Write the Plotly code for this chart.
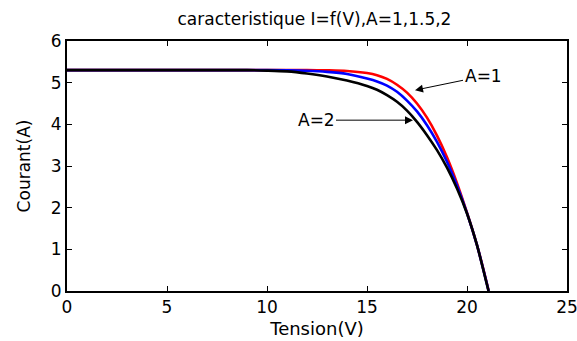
import plotly.graph_objects as go

# I-V curves of the PV cell for three ideality factors A
v_a1 = [0, 11, 12, 13, 14, 15, 15.5, 16, 16.5, 17, 17.5, 18, 18.5, 19, 19.5, 20, 20.5, 21, 21.08]
i_a1 = [5.30, 5.30, 5.30, 5.295, 5.28, 5.23, 5.18, 5.09, 4.95, 4.76, 4.50, 4.16, 3.73, 3.21, 2.59, 1.88, 1.10, 0.17, 0]

v_a15 = [0, 10, 11, 12, 13, 14, 15, 15.5, 16, 16.5, 17, 17.5, 18, 18.5, 19, 19.5, 20, 20.5, 21, 21.08]
i_a15 = [5.30, 5.30, 5.295, 5.285, 5.26, 5.21, 5.10, 5.03, 4.93, 4.78, 4.57, 4.31, 3.98, 3.58, 3.10, 2.53, 1.87, 1.10, 0.16, 0]

v_a2 = [0, 9, 10, 11, 12, 13, 14, 15, 15.5, 16, 16.5, 17, 17.5, 18, 18.5, 19, 19.5, 20, 20.5, 21, 21.08]
i_a2 = [5.30, 5.30, 5.29, 5.27, 5.22, 5.15, 5.05, 4.92, 4.83, 4.70, 4.54, 4.33, 4.06, 3.74, 3.38, 2.96, 2.46, 1.86, 1.10, 0.15, 0]

x_ticks = [0, 5, 10, 15, 20, 25]
y_ticks = [0, 1, 2, 3, 4, 5, 6]

FONT = "DejaVu Sans"

fig = go.Figure()
for v, i, col, name in [(v_a1, i_a1, "#ff0000", "A=1"),
                        (v_a15, i_a15, "#0000ff", "A=1.5"),
                        (v_a2, i_a2, "#000000", "A=2")]:
    fig.add_trace(go.Scatter(x=v, y=i, mode="lines", name=name,
                             line=dict(color=col, width=2.6, shape="spline", smoothing=0.8)))

axis_common = dict(showline=True, linecolor="black", linewidth=2, mirror="allticks",
                   ticks="inside", ticklen=5, tickwidth=1, tickcolor="black",
                   showgrid=False, zeroline=False, automargin=False,
                   ticklabeloverflow="allow",
                   tickfont=dict(family=FONT, size=17, color="black"))

fig.update_xaxes(range=[0, 25], tickvals=x_ticks, **axis_common,
                 title=dict(text="Tension(V)", font=dict(family=FONT, size=18, color="black"),
                            standoff=6))
fig.update_yaxes(range=[0, 6], tickvals=y_ticks, **axis_common,
                 title=dict(text="Courant(A)", font=dict(family=FONT, size=17, color="black"),
                            standoff=16))

fig.add_annotation(x=17.4, y=4.82, ax=68, ay=-14, text="A=1", showarrow=True,
                   arrowhead=2, arrowsize=1.6, arrowwidth=1, arrowcolor="black",
                   font=dict(family=FONT, size=17, color="black"))
fig.add_annotation(x=17.3, y=4.10, ax=-97, ay=0, text="A=2", showarrow=True,
                   arrowhead=2, arrowsize=1.6, arrowwidth=1, arrowcolor="black",
                   font=dict(family=FONT, size=17, color="black"))

fig.update_layout(
    width=577, height=341,
    margin=dict(l=67, r=10, t=41, b=50),
    paper_bgcolor="white", plot_bgcolor="white",
    showlegend=False,
    title=dict(text="caracteristique I=f(V),A=1,1.5,2", x=0.545, xanchor="center",
               y=0.945, yanchor="middle",
               font=dict(family=FONT, size=17, color="black")),
)

fig.write_html("out.html")
